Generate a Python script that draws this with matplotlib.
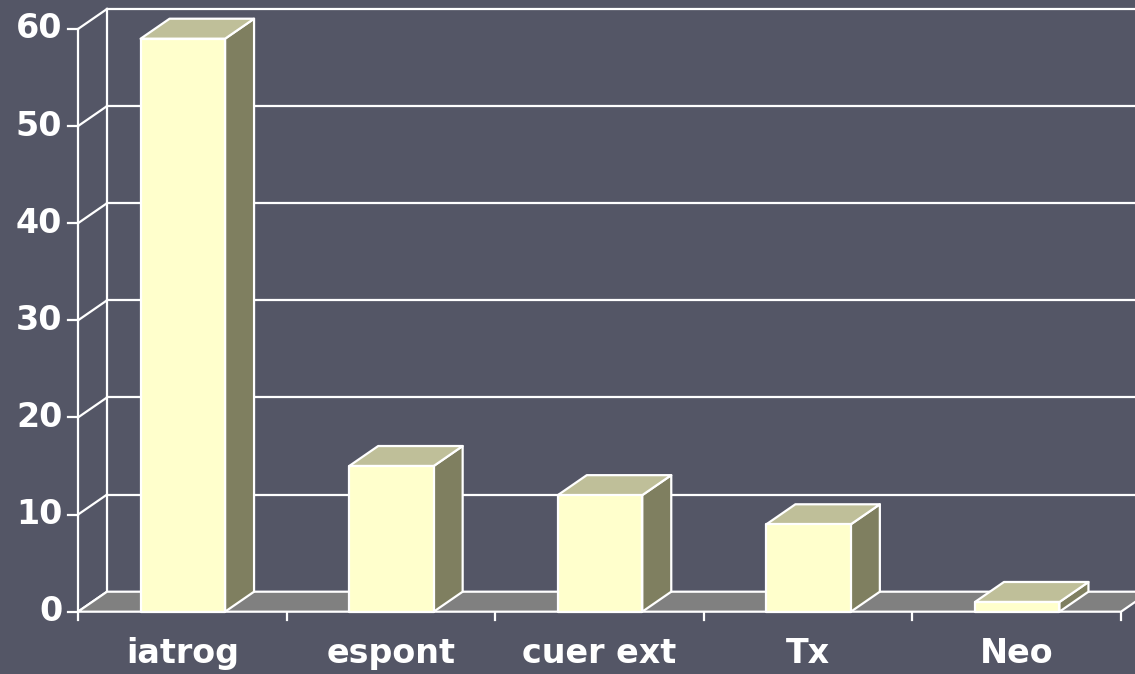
import matplotlib.pyplot as plt
from matplotlib.patches import Polygon

# chart data
categories = ['iatrog', 'espont', 'cuer ext', 'Tx', 'Neo']
values = [59, 15, 12, 9, 1]
yticks = [0, 10, 20, 30, 40, 50, 60]

# colours
bg = '#545666'
front_c = '#FFFFCC'
top_c = '#BFBF99'
side_c = '#7F7F60'
floor_c = '#808080'
edge = 'white'

# depth offset of the back wall (data units)
dx, dy = 0.139, 2.06
# bar placement inside a category slot
b0, b1 = 0.30, 0.705

W, H = 1135, 674
fig = plt.figure(figsize=(W / 100, H / 100), dpi=100, facecolor=bg)
ax = fig.add_axes([78 / W, (H - 611.7) / H, (1121 - 78) / W, (611.7 - 29) / H])
ax.set_facecolor('none')
ax.set_xlim(0, len(categories))
ax.set_ylim(0, 60)
ax.axis('off')

n = len(categories)
lw = 1.6

def poly(pts, fc, z):
    ax.add_patch(Polygon(pts, closed=True, fc=fc, ec=edge, lw=lw, zorder=z,
                         clip_on=False, joinstyle='round'))

# floor
poly([(0, 0), (n, 0), (n + dx, dy), (dx, dy)], floor_c, 1)

# back wall gridlines + left wall diagonals
for t in yticks:
    if t > 0:
        ax.plot([dx, n + dx + 0.2], [t + dy, t + dy], color=edge, lw=lw,
                zorder=0.5, clip_on=False)
    ax.plot([0, dx], [t, t + dy], color=edge, lw=lw, zorder=0.6, clip_on=False)
    ax.plot([-0.05, 0], [t, t], color=edge, lw=lw, zorder=0.6, clip_on=False)
    ax.text(-0.075, t, str(t), ha='right', va='center', color='white',
            fontsize=24, fontweight='bold', family='DejaVu Sans')

# axis lines
ax.plot([0, 0], [-0.9, 60], color=edge, lw=lw, zorder=0.6, clip_on=False)
ax.plot([dx, dx], [dy, 60 + dy], color=edge, lw=lw, zorder=0.6, clip_on=False)
for i in range(1, n + 1):
    ax.plot([i, i], [0, -0.9], color=edge, lw=lw, zorder=0.6, clip_on=False)

# bars
for i, (c, v) in enumerate(zip(categories, values)):
    x0, x1 = i + b0, i + b1
    poly([(x1, 0), (x1 + dx, dy), (x1 + dx, v + dy), (x1, v)], side_c, 3)
    poly([(x0, v), (x1, v), (x1 + dx, v + dy), (x0 + dx, v + dy)], top_c, 3)
    poly([(x0, 0), (x1, 0), (x1, v), (x0, v)], front_c, 4)
    ax.text(i + 0.5, -4.3, c, ha='center', va='center', color='white',
            fontsize=24, fontweight='bold', family='DejaVu Sans')

fig.savefig('out.png', dpi=100, facecolor=bg)
